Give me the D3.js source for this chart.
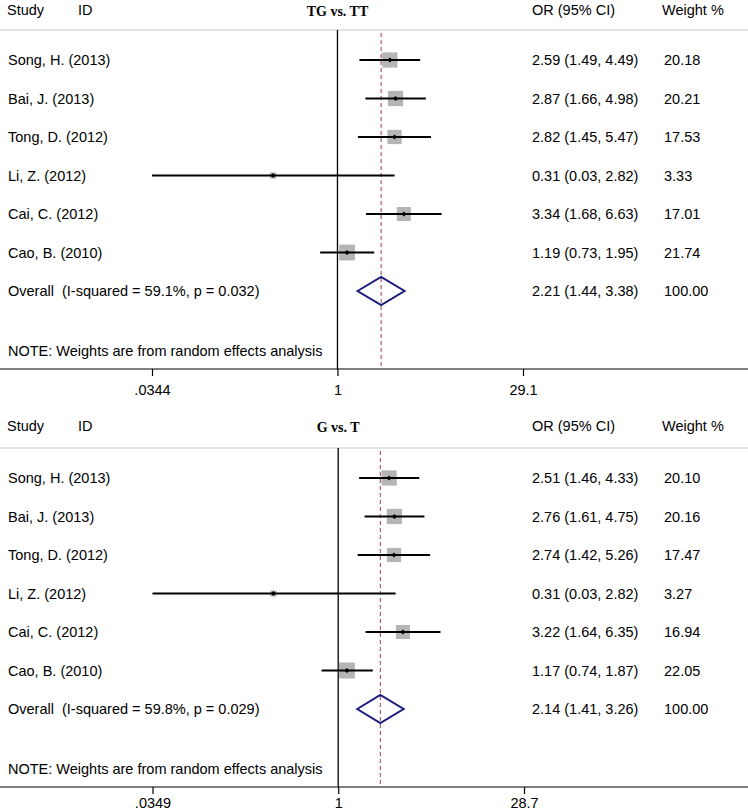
<!DOCTYPE html>
<html>
<head>
<meta charset="utf-8">
<script src="https://cdn.jsdelivr.net/npm/d3@7"></script>
<style>
  html, body { margin: 0; padding: 0; background: #fff; }
  svg { display: block; }
</style>
</head>
<body>
<svg id="chart" width="748" height="812"></svg>
<script>
// ---------- data ----------
const studies = ["Song, H. (2013)", "Bai, J. (2013)", "Tong, D. (2012)", "Li, Z. (2012)", "Cai, C. (2012)", "Cao, B. (2010)"];

const titleA = "TG vs. TT";
const orA    = [2.59, 2.87, 2.82, 0.31, 3.34, 1.19];
const loA    = [1.49, 1.66, 1.45, 0.03, 1.68, 0.73];
const hiA    = [4.49, 4.98, 5.47, 2.82, 6.63, 1.95];
const wA     = [20.18, 20.21, 17.53, 3.33, 17.01, 21.74];
const overallA = [2.21, 1.44, 3.38];
const hetA   = ["59.1%", "0.032"];
const ticksA = [0.0344, 1, 29.1];
const tickLabelsA = [".0344", "1", "29.1"];

const titleB = "G vs. T";
const orB    = [2.51, 2.76, 2.74, 0.31, 3.22, 1.17];
const loB    = [1.46, 1.61, 1.42, 0.03, 1.64, 0.74];
const hiB    = [4.33, 4.75, 5.26, 2.82, 6.35, 1.87];
const wB     = [20.10, 20.16, 17.47, 3.27, 16.94, 22.05];
const overallB = [2.14, 1.41, 3.26];
const hetB   = ["59.8%", "0.029"];
const ticksB = [0.0349, 1, 28.7];
const tickLabelsB = [".0349", "1", "28.7"];

// ---------- drawing ----------
const svg = d3.select("#chart");
const W = 748;
const FONT = "'Liberation Sans', Arial, sans-serif";
const FS = 14.5;

function panel(cfg) {
  const g = svg.append("g");
  const top = cfg.lineY;             // gray header rule
  const rowY0 = top + 30, rowH = 38.5;
  const axisY = top + 339;
  const x = d3.scaleLog().domain([cfg.ticks[0], cfg.ticks[2]]).range(cfg.range).clamp(true);
  const fmt = d => d.toFixed(2);

  // header
  const hy = cfg.headerY;
  g.append("text").attr("x", 7).attr("y", hy).text("Study");
  g.append("text").attr("x", 78).attr("y", hy).text("ID");
  g.append("text").attr("x", 532).attr("y", hy).text("OR (95% CI)");
  g.append("text").attr("x", 662).attr("y", hy).text("Weight %");
  g.append("text").attr("x", x(1)).attr("y", hy + 1).attr("text-anchor", "middle")
    .attr("font-family", "'Liberation Serif', 'Times New Roman', serif")
    .attr("font-weight", "bold").attr("font-size", 14).text(cfg.title);

  g.append("line").attr("x1", 0).attr("x2", W).attr("y1", top).attr("y2", top)
    .attr("stroke", "#c8c8c8").attr("stroke-width", 1.2);

  // reference line at 1
  g.append("line").attr("x1", x(1)).attr("x2", x(1)).attr("y1", top).attr("y2", axisY)
    .attr("stroke", "#000").attr("stroke-width", 1.3);

  // overall dashed line
  g.append("line").attr("x1", x(cfg.overall[0])).attr("x2", x(cfg.overall[0]))
    .attr("y1", top + 3).attr("y2", axisY)
    .attr("stroke", "#a33a50").attr("stroke-width", 1).attr("stroke-dasharray", "4,3");

  const rows = studies.map((s, i) => ({
    name: s, or: cfg.or[i], lo: cfg.lo[i], hi: cfg.hi[i], w: cfg.w[i], y: rowY0 + i * rowH
  }));

  // weight boxes
  g.selectAll("rect.box").data(rows).enter().append("rect")
    .attr("class", "box")
    .attr("x", d => x(d.or) - 1.7 * Math.sqrt(d.w))
    .attr("y", d => d.y - 1.7 * Math.sqrt(d.w))
    .attr("width", d => 3.4 * Math.sqrt(d.w))
    .attr("height", d => 3.4 * Math.sqrt(d.w))
    .attr("fill", "#b5b5b5");

  // CI lines
  g.selectAll("line.ci").data(rows).enter().append("line")
    .attr("class", "ci")
    .attr("x1", d => x(d.lo)).attr("x2", d => x(d.hi))
    .attr("y1", d => d.y).attr("y2", d => d.y)
    .attr("stroke", "#000").attr("stroke-width", 2);

  // point estimates
  g.selectAll("path.pt").data(rows).enter().append("path")
    .attr("class", "pt")
    .attr("d", d => {
      const cx = x(d.or), cy = d.y, r = 2.6;
      return `M${cx},${cy - r}L${cx + r},${cy}L${cx},${cy + r}L${cx - r},${cy}Z`;
    })
    .attr("fill", "#000");

  // text columns
  g.selectAll("text.study").data(rows).enter().append("text")
    .attr("class", "study").attr("x", 8).attr("y", d => d.y + 5).text(d => d.name);
  g.selectAll("text.or").data(rows).enter().append("text")
    .attr("class", "or").attr("x", 532).attr("y", d => d.y + 5)
    .text(d => `${fmt(d.or)} (${fmt(d.lo)}, ${fmt(d.hi)})`);
  g.selectAll("text.wt").data(rows).enter().append("text")
    .attr("class", "wt").attr("x", 664).attr("y", d => d.y + 5).text(d => fmt(d.w));

  // overall row
  const oy = rowY0 + 6 * rowH;
  const [oe, ol, oh] = cfg.overall;
  g.append("path")
    .attr("d", `M${x(ol)},${oy}L${x(oe)},${oy - 14}L${x(oh)},${oy}L${x(oe)},${oy + 14}Z`)
    .attr("fill", "none").attr("stroke", "#1c1c7c").attr("stroke-width", 2);
  g.append("text").attr("x", 8).attr("y", oy + 5)
    .attr("xml:space", "preserve")
    .text(`Overall  (I-squared = ${cfg.het[0]}, p = ${cfg.het[1]})`);
  g.append("text").attr("x", 532).attr("y", oy + 5).text(`${fmt(oe)} (${fmt(ol)}, ${fmt(oh)})`);
  g.append("text").attr("x", 664).attr("y", oy + 5).text("100.00");

  // note
  g.append("text").attr("x", 8).attr("y", top + 326).text("NOTE: Weights are from random effects analysis");

  // axis
  g.append("line").attr("x1", 0).attr("x2", W).attr("y1", axisY).attr("y2", axisY)
    .attr("stroke", "#000").attr("stroke-width", 1);
  const axis = d3.axisBottom(x).tickValues(cfg.ticks).tickSize(7).tickPadding(cfg.pad)
    .tickFormat((d, i) => cfg.tickLabels[i]);
  const ag = g.append("g").attr("transform", `translate(0,${axisY})`).call(axis);
  ag.select(".domain").remove();
  ag.selectAll(".tick line").attr("stroke", "#000").attr("stroke-width", 1.2);
  ag.selectAll(".tick text").attr("font-family", FONT).attr("font-size", FS).attr("fill", "#000");

  g.selectAll("text").filter(function() { return !this.getAttribute("font-family"); })
    .attr("font-family", FONT).attr("font-size", FS).attr("fill", "#000");
}

panel({ title: titleA, or: orA, lo: loA, hi: hiA, w: wA, overall: overallA, het: hetA,
        ticks: ticksA, tickLabels: tickLabelsA, lineY: 30, headerY: 15, range: [152, 523], pad: 9 });
panel({ title: titleB, or: orB, lo: loB, hi: hiB, w: wB, overall: overallB, het: hetB,
        ticks: ticksB, tickLabels: tickLabelsB, lineY: 448, headerY: 431, range: [152.5, 524], pad: 4 });
</script>
</body>
</html>
